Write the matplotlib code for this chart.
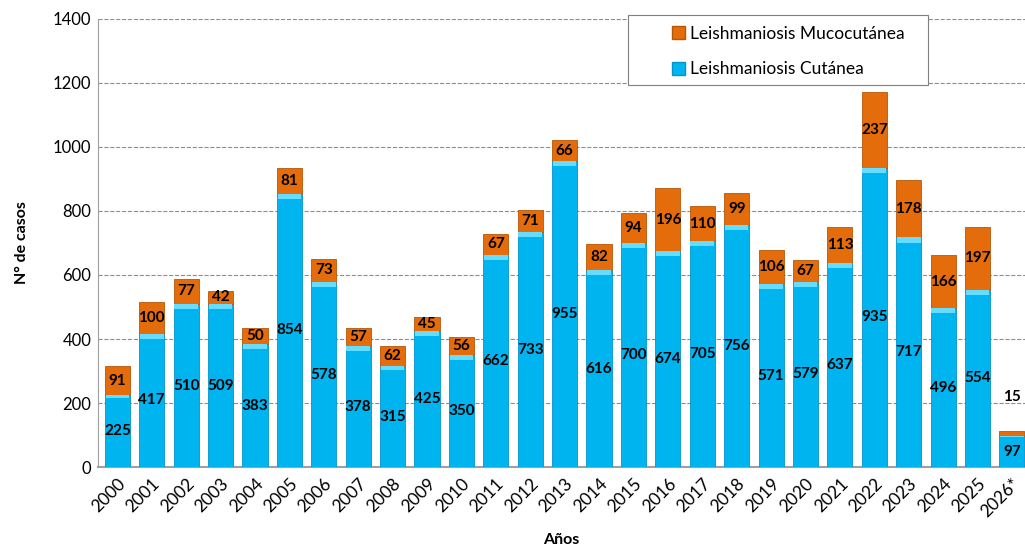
import matplotlib.pyplot as plt
import numpy as np
from matplotlib.patches import Patch, Rectangle

plt.rcParams['font.family'] = ['Lato', 'DejaVu Sans']

years = ['2000', '2001', '2002', '2003', '2004', '2005', '2006', '2007', '2008',
         '2009', '2010', '2011', '2012', '2013', '2014', '2015', '2016', '2017',
         '2018', '2019', '2020', '2021', '2022', '2023', '2024', '2025', '2026*']
cutanea = [225, 417, 510, 509, 383, 854, 578, 378, 315, 425, 350, 662, 733, 955,
           616, 700, 674, 705, 756, 571, 579, 637, 935, 717, 496, 554, 97]
mucocutanea = [91, 100, 77, 42, 50, 81, 73, 57, 62, 45, 56, 67, 71, 66, 82, 94,
               196, 110, 99, 106, 67, 113, 237, 178, 166, 197, 15]

blue = '#00B4F0'
orange = '#E46C0A'

fig = plt.figure(figsize=(10.25, 5.49), dpi=100)
ax = fig.add_axes([0.096, 0.149, 0.904, 0.817])

x = np.arange(len(years))
w = 0.73
cut = np.array(cutanea)
muc = np.array(mucocutanea)

ax.bar(x, cut, w, color=blue, edgecolor='#0095cc', linewidth=0.6, zorder=3)
ax.bar(x, muc, w, bottom=cut, color=orange, edgecolor='#b65708', linewidth=0.6, zorder=3)
# light bevel at top of each blue segment
bev = np.minimum(cut * 0.04, 16)
ax.bar(x, bev, w * 0.94, bottom=cut - bev, color='#66dcff', linewidth=0, zorder=4)

for i in range(len(years)):
    ax.text(x[i], cut[i] / 2, str(cutanea[i]), ha='center', va='center',
            fontsize=11, fontweight='bold', zorder=5)
    if i == len(years) - 1:
        ax.text(x[i], 220, str(mucocutanea[i]), ha='center', va='center',
                fontsize=11, fontweight='bold', zorder=5)
    else:
        ax.text(x[i], cut[i] + muc[i] / 2, str(mucocutanea[i]), ha='center',
                va='center', fontsize=11, fontweight='bold', zorder=5)

ax.set_ylim(0, 1400)
ax.set_yticks(range(0, 1401, 200))
ax.set_xlim(-0.55, 26.38)
ax.set_xticks(x)
ax.set_xticklabels(years, rotation=45, ha='right', rotation_mode='anchor', fontsize=12.5)
ax.tick_params(axis='y', labelsize=12, length=0, pad=5)
ax.tick_params(axis='x', length=0, pad=6)
ax.grid(axis='y', linestyle='--', color='#8c8c8c', linewidth=0.8, zorder=0)
for s in ['top', 'right']:
    ax.spines[s].set_visible(False)
ax.spines['left'].set_color('#a0a0a0')
ax.spines['bottom'].set_color('#a0a0a0')
ax.spines['bottom'].set_linewidth(1.5)

ax.set_ylabel('N° de casos', fontsize=11.5, fontweight='bold', labelpad=17)
ax.set_xlabel('Años', fontsize=11.5, fontweight='bold', labelpad=9)

# legend frame (wider than its content, as in the original)
ax.add_patch(Rectangle((0.5716, 0.852), 0.3237, 0.156, transform=ax.transAxes,
                       facecolor='white', edgecolor='#7f7f7f', linewidth=0.8,
                       zorder=6, clip_on=False))
handles = [Patch(facecolor=orange, edgecolor='#b65708'),
           Patch(facecolor=blue, edgecolor='#0095cc')]
leg = ax.legend(handles, ['Leishmaniosis Mucocutánea', 'Leishmaniosis Cutánea'],
                loc='upper left', bbox_to_anchor=(0.619, 0.984), fontsize=12.5,
                frameon=False, borderpad=0, labelspacing=1.12, handlelength=0.75,
                handleheight=0.75, handletextpad=0.3, borderaxespad=0)
leg.set_zorder(7)

fig.savefig('out.png', dpi=100)
